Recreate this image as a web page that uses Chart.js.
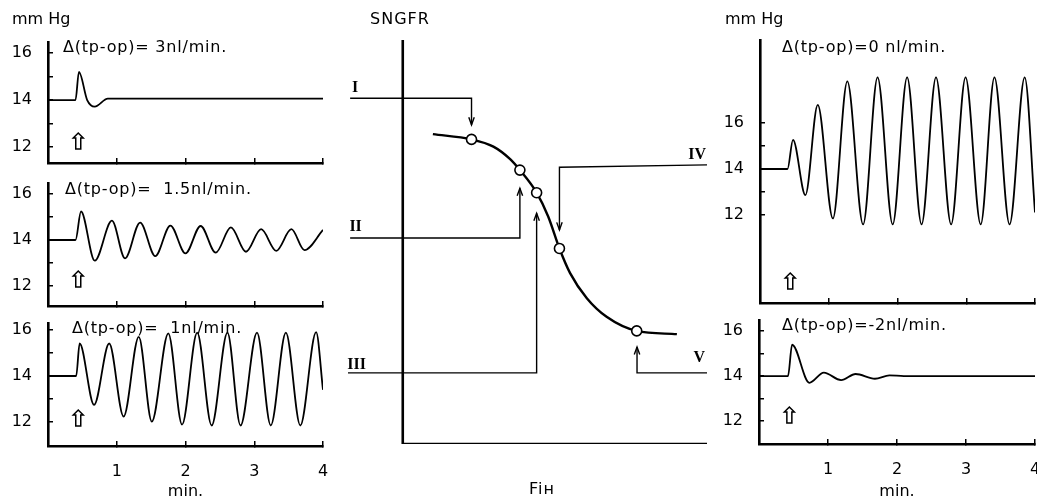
<!DOCTYPE html>
<html>
<head>
<meta charset="utf-8">
<script src="https://cdn.jsdelivr.net/npm/chart.js@4.4.1/dist/chart.umd.min.js"></script>
<style>
  body { margin: 0; background: #fff; }
  #wrap { position: relative; width: 1037px; height: 502px; overflow: hidden; font-family: "DejaVu Sans", sans-serif; }
  #wrap canvas { position: absolute; left: 0; top: 0; }
  .lbl { position: absolute; font-size: 16px; line-height: 1; color: #000; white-space: nowrap; }
</style>
</head>
<body>
<div id="wrap">
  <canvas id="c1" width="1037" height="502"></canvas>
  <canvas id="c2" width="1037" height="502"></canvas>
  <canvas id="c3" width="1037" height="502"></canvas>
  <canvas id="c4" width="1037" height="502"></canvas>
  <canvas id="c5" width="1037" height="502"></canvas>
  <canvas id="mid" width="1037" height="502"></canvas>
  <div class="lbl" style="left:12px;top:11px">mm Hg</div>
  <div class="lbl" style="left:725px;top:11px">mm Hg</div>
  <div class="lbl" style="left:370px;top:11px;letter-spacing:1px">SNGFR</div>
  <div class="lbl" style="left:529px;top:481px;letter-spacing:1px">Fiʜ</div>
</div>
<script>
// pressure traces: time (min) and tubular pressure (mm Hg)
const t3 = [0, 0.40, 0.45, 0.57, 0.68, 0.87, 4];
const p3 = [14, 14, 15.2, 14.0, 13.72, 14.06, 14.06];

const t15 = [0, 0.40, 0.48, 0.68, 0.93, 1.12, 1.34, 1.56, 1.78, 2.0, 2.22, 2.44, 2.66, 2.88, 3.10, 3.32, 3.54, 3.73, 4.0];
const p15 = [14, 14, 15.24, 13.1, 14.84, 13.2, 14.76, 13.3, 14.63, 13.42, 14.61, 13.45, 14.55, 13.49, 14.47, 13.53, 14.47, 13.56, 14.44];

const t1 = [0, 0.41, 0.46, 0.67, 0.89, 1.10, 1.32, 1.51, 1.75, 1.95, 2.17, 2.38, 2.61, 2.80, 3.04, 3.24, 3.46, 3.67, 3.90, 4.0];
const p1 = [14, 14, 15.41, 12.75, 15.41, 12.24, 15.7, 12.02, 15.85, 11.89, 15.88, 11.85, 15.88, 11.85, 15.88, 11.85, 15.88, 11.85, 15.9, 13.4];

const t0 = [0, 0.40, 0.48, 0.66, 0.84, 1.06, 1.27, 1.50, 1.71, 1.93, 2.14, 2.35, 2.56, 2.78, 2.99, 3.21, 3.41, 3.63, 3.85, 4.0];
const p0 = [14, 14, 15.27, 12.86, 16.8, 11.84, 17.82, 11.58, 18.0, 11.58, 18.0, 11.58, 18.0, 11.58, 18.0, 11.58, 18.0, 11.58, 18.0, 12.1];

const tm2 = [0, 0.42, 0.48, 0.73, 0.94, 1.19, 1.40, 1.68, 1.89, 2.1, 4.0];
const pm2 = [14, 14, 15.39, 13.70, 14.15, 13.82, 14.09, 13.88, 14.03, 14.0, 14.0];

const stimTime = 0.44;
const xTicks = [1, 2, 3, 4];
const yTicks = [12, 13, 14, 15, 16];
const yLabelled = [12, 14, 16];

// SNGFR vs FiH sketch (arbitrary units)
const curveX = [0.99, 2.26, 2.98, 3.53, 3.85, 4.40, 4.78, 5.15, 5.50, 6.05, 6.70, 7.69, 9.01];
const curveY = [7.67, 7.54, 7.36, 7.05, 6.78, 6.22, 5.63, 4.84, 4.23, 3.61, 3.15, 2.80, 2.72];
const markX = [2.26, 3.85, 4.40, 5.15, 7.69];
const markY = [7.54, 6.78, 6.22, 4.84, 2.80];
const guideI = [[-1.73, 8.56], [2.26, 8.56], [2.26, 7.90]];
const guideII = [[-1.73, 5.10], [3.85, 5.10], [3.85, 6.33]];
const guideIII = [[-1.80, 1.76], [4.40, 1.76], [4.40, 5.71]];
const guideIV = [[10, 6.91], [5.15, 6.85], [5.15, 5.30]];
const guideV = [[10, 1.76], [7.70, 1.76], [7.70, 2.40]];
const romanText = ['I', 'II', 'III', 'IV', 'V'];
const romanX = [-1.57, -1.55, -1.52, 9.68, 9.75];
const romanY = [8.81, 5.37, 1.95, 7.15, 2.13];

const FONT = '"DejaVu Sans", sans-serif';

function makeWave(cfg) {
  const notes = {
    id: 'notes',
    afterDraw(chart) {
      const {ctx, chartArea, scales} = chart;
      ctx.save();
      ctx.fillStyle = '#000';
      ctx.font = '16px ' + FONT;
      ctx.letterSpacing = '0.8px';
      ctx.textBaseline = 'middle';
      ctx.fillText(cfg.note, chartArea.left + cfg.nx, chartArea.top + cfg.ny);
      // hollow stimulus arrow
      const x = scales.x.getPixelForValue(stimTime);
      const yb = chartArea.bottom - cfg.ad + 8, yt = yb - 16;
      ctx.strokeStyle = '#000';
      ctx.lineWidth = 1.5;
      ctx.beginPath();
      ctx.moveTo(x - 2.5, yb); ctx.lineTo(x - 2.5, yt + 5); ctx.lineTo(x - 5, yt + 5);
      ctx.lineTo(x, yt); ctx.lineTo(x + 5, yt + 5); ctx.lineTo(x + 2.5, yt + 5);
      ctx.lineTo(x + 2.5, yb); ctx.closePath();
      ctx.stroke();
      ctx.restore();
    }
  };
  const xh = 502 - cfg.B;
  new Chart(document.getElementById(cfg.id), {
    type: 'scatter',
    data: {
      datasets: [{
        data: cfg.t.map((t, i) => ({x: t, y: cfg.p[i]})),
        showLine: true,
        borderColor: '#000',
        borderWidth: 1.8,
        pointRadius: 0,
        cubicInterpolationMode: 'monotone'
      }]
    },
    options: {
      responsive: false,
      animation: false,
      events: [],
      layout: { padding: { left: cfg.L - 48, top: cfg.T, right: 1037 - cfg.R, bottom: 0 } },
      plugins: { legend: { display: false }, tooltip: { enabled: false } },
      scales: {
        x: {
          type: 'linear', min: 0, max: 4,
          afterBuildTicks: s => { s.ticks = xTicks.map(v => ({value: v})); },
          afterFit: s => { s.height = xh; s.paddingLeft = 0; s.paddingRight = 0; },
          ticks: {
            padding: 21, color: '#000', font: { family: FONT, size: 16 }, maxRotation: 0, autoSkip: false,
            callback: v => cfg.xLabels ? v : ''
          },
          grid: { drawOnChartArea: false, tickLength: -5, color: '#000', lineWidth: 1.5 },
          border: { color: '#000', width: 2.6 },
          title: {
            display: !!cfg.xLabels, text: 'min.', color: '#000',
            font: { family: FONT, size: 16 }, padding: { top: 0, bottom: 1 }
          }
        },
        y: {
          type: 'linear', min: cfg.ymin, max: cfg.ymax,
          afterBuildTicks: s => { s.ticks = yTicks.map(v => ({value: v})); },
          afterFit: s => { s.width = 48; s.paddingTop = 0; s.paddingBottom = 0; },
          ticks: {
            padding: 21, color: '#000', font: { family: FONT, size: 16 }, autoSkip: false,
            callback: v => yLabelled.includes(v) ? v : ''
          },
          grid: { drawOnChartArea: false, tickLength: -5, color: '#000', lineWidth: 1.5 },
          border: { color: '#000', width: 2.6 }
        }
      }
    },
    plugins: [notes]
  });
}

makeWave({id: 'c1', L: 48, T: 42, R: 323, B: 163, ymin: 11.32, ymax: 16.47, t: t3, p: p3,
  note: 'Δ(tp-op)= 3nl/min.', nx: 15, ny: 6, ad: 22});
makeWave({id: 'c2', L: 48, T: 183, R: 323, B: 306, ymin: 11.13, ymax: 16.48, t: t15, p: p15,
  note: 'Δ(tp-op)=  1.5nl/min.', nx: 17, ny: 7, ad: 27});
makeWave({id: 'c3', L: 48, T: 323, R: 323, B: 446, ymin: 10.96, ymax: 16.3, t: t1, p: p1,
  note: 'Δ(tp-op)=  1nl/min.', nx: 24, ny: 6, ad: 28, xLabels: true});
makeWave({id: 'c4', L: 760, T: 40, R: 1035, B: 303, ymin: 8.15, ymax: 19.63, t: t0, p: p0,
  note: 'Δ(tp-op)=0 nl/min.', nx: 22, ny: 8, ad: 22});
makeWave({id: 'c5', L: 759, T: 320, R: 1035, B: 444, ymin: 10.98, ymax: 16.49, t: tm2, p: pm2,
  note: 'Δ(tp-op)=-2nl/min.', nx: 23, ny: 6, ad: 29, xLabels: true});

// center: SNGFR / FiH relation
const arrowHeads = {
  id: 'arrowHeads',
  afterDatasetsDraw(chart) {
    const {ctx} = chart;
    ctx.save();
    ctx.strokeStyle = '#000';
    ctx.lineWidth = 1.4;
    chart.data.datasets.forEach((ds, i) => {
      if (!ds.arrow) return;
      const pts = chart.getDatasetMeta(i).data;
      const a = pts[pts.length - 2], b = pts[pts.length - 1];
      const ang = Math.atan2(b.y - a.y, b.x - a.x);
      ctx.beginPath();
      ctx.moveTo(b.x - 8 * Math.cos(ang - 0.35), b.y - 8 * Math.sin(ang - 0.35));
      ctx.lineTo(b.x, b.y);
      ctx.lineTo(b.x - 8 * Math.cos(ang + 0.35), b.y - 8 * Math.sin(ang + 0.35));
      ctx.stroke();
    });
    ctx.fillStyle = '#000';
    ctx.font = 'bold 16px "Liberation Serif", serif';
    ctx.textAlign = 'center';
    ctx.textBaseline = 'middle';
    const {x, y} = chart.scales;
    romanText.forEach((s, i) => ctx.fillText(s, x.getPixelForValue(romanX[i]), y.getPixelForValue(romanY[i])));
    ctx.restore();
  }
};

const guide = g => ({
  data: g.map(p => ({x: p[0], y: p[1]})),
  showLine: true, borderColor: '#000', borderWidth: 1.4, pointRadius: 0, tension: 0, arrow: true
});

new Chart(document.getElementById('mid'), {
  type: 'scatter',
  data: {
    datasets: [
      {
        data: markX.map((v, i) => ({x: v, y: markY[i]})),
        showLine: false, pointRadius: 5, pointBackgroundColor: '#fff',
        pointBorderColor: '#000', pointBorderWidth: 1.6
      },
      {
        data: curveX.map((v, i) => ({x: v, y: curveY[i]})),
        showLine: true, borderColor: '#000', borderWidth: 2.4, pointRadius: 0,
        cubicInterpolationMode: 'monotone'
      },
      guide(guideI), guide(guideII), guide(guideIII), guide(guideIV), guide(guideV),
      {
        data: [{x: 0, y: 10}, {x: 0, y: 0}, {x: 10, y: 0}],
        showLine: true, borderColor: '#000', borderWidth: 2.6, pointRadius: 0, tension: 0
      }
    ]
  },
  options: {
    responsive: false,
    animation: false,
    events: [],
    layout: { padding: { left: 348, right: 330, top: 40, bottom: 58 } },
    plugins: { legend: { display: false }, tooltip: { enabled: false } },
    scales: {
      x: { type: 'linear', min: -1.8, max: 10, display: false },
      y: { type: 'linear', min: 0, max: 10, display: false }
    }
  },
  plugins: [arrowHeads]
});
</script>
</body>
</html>
